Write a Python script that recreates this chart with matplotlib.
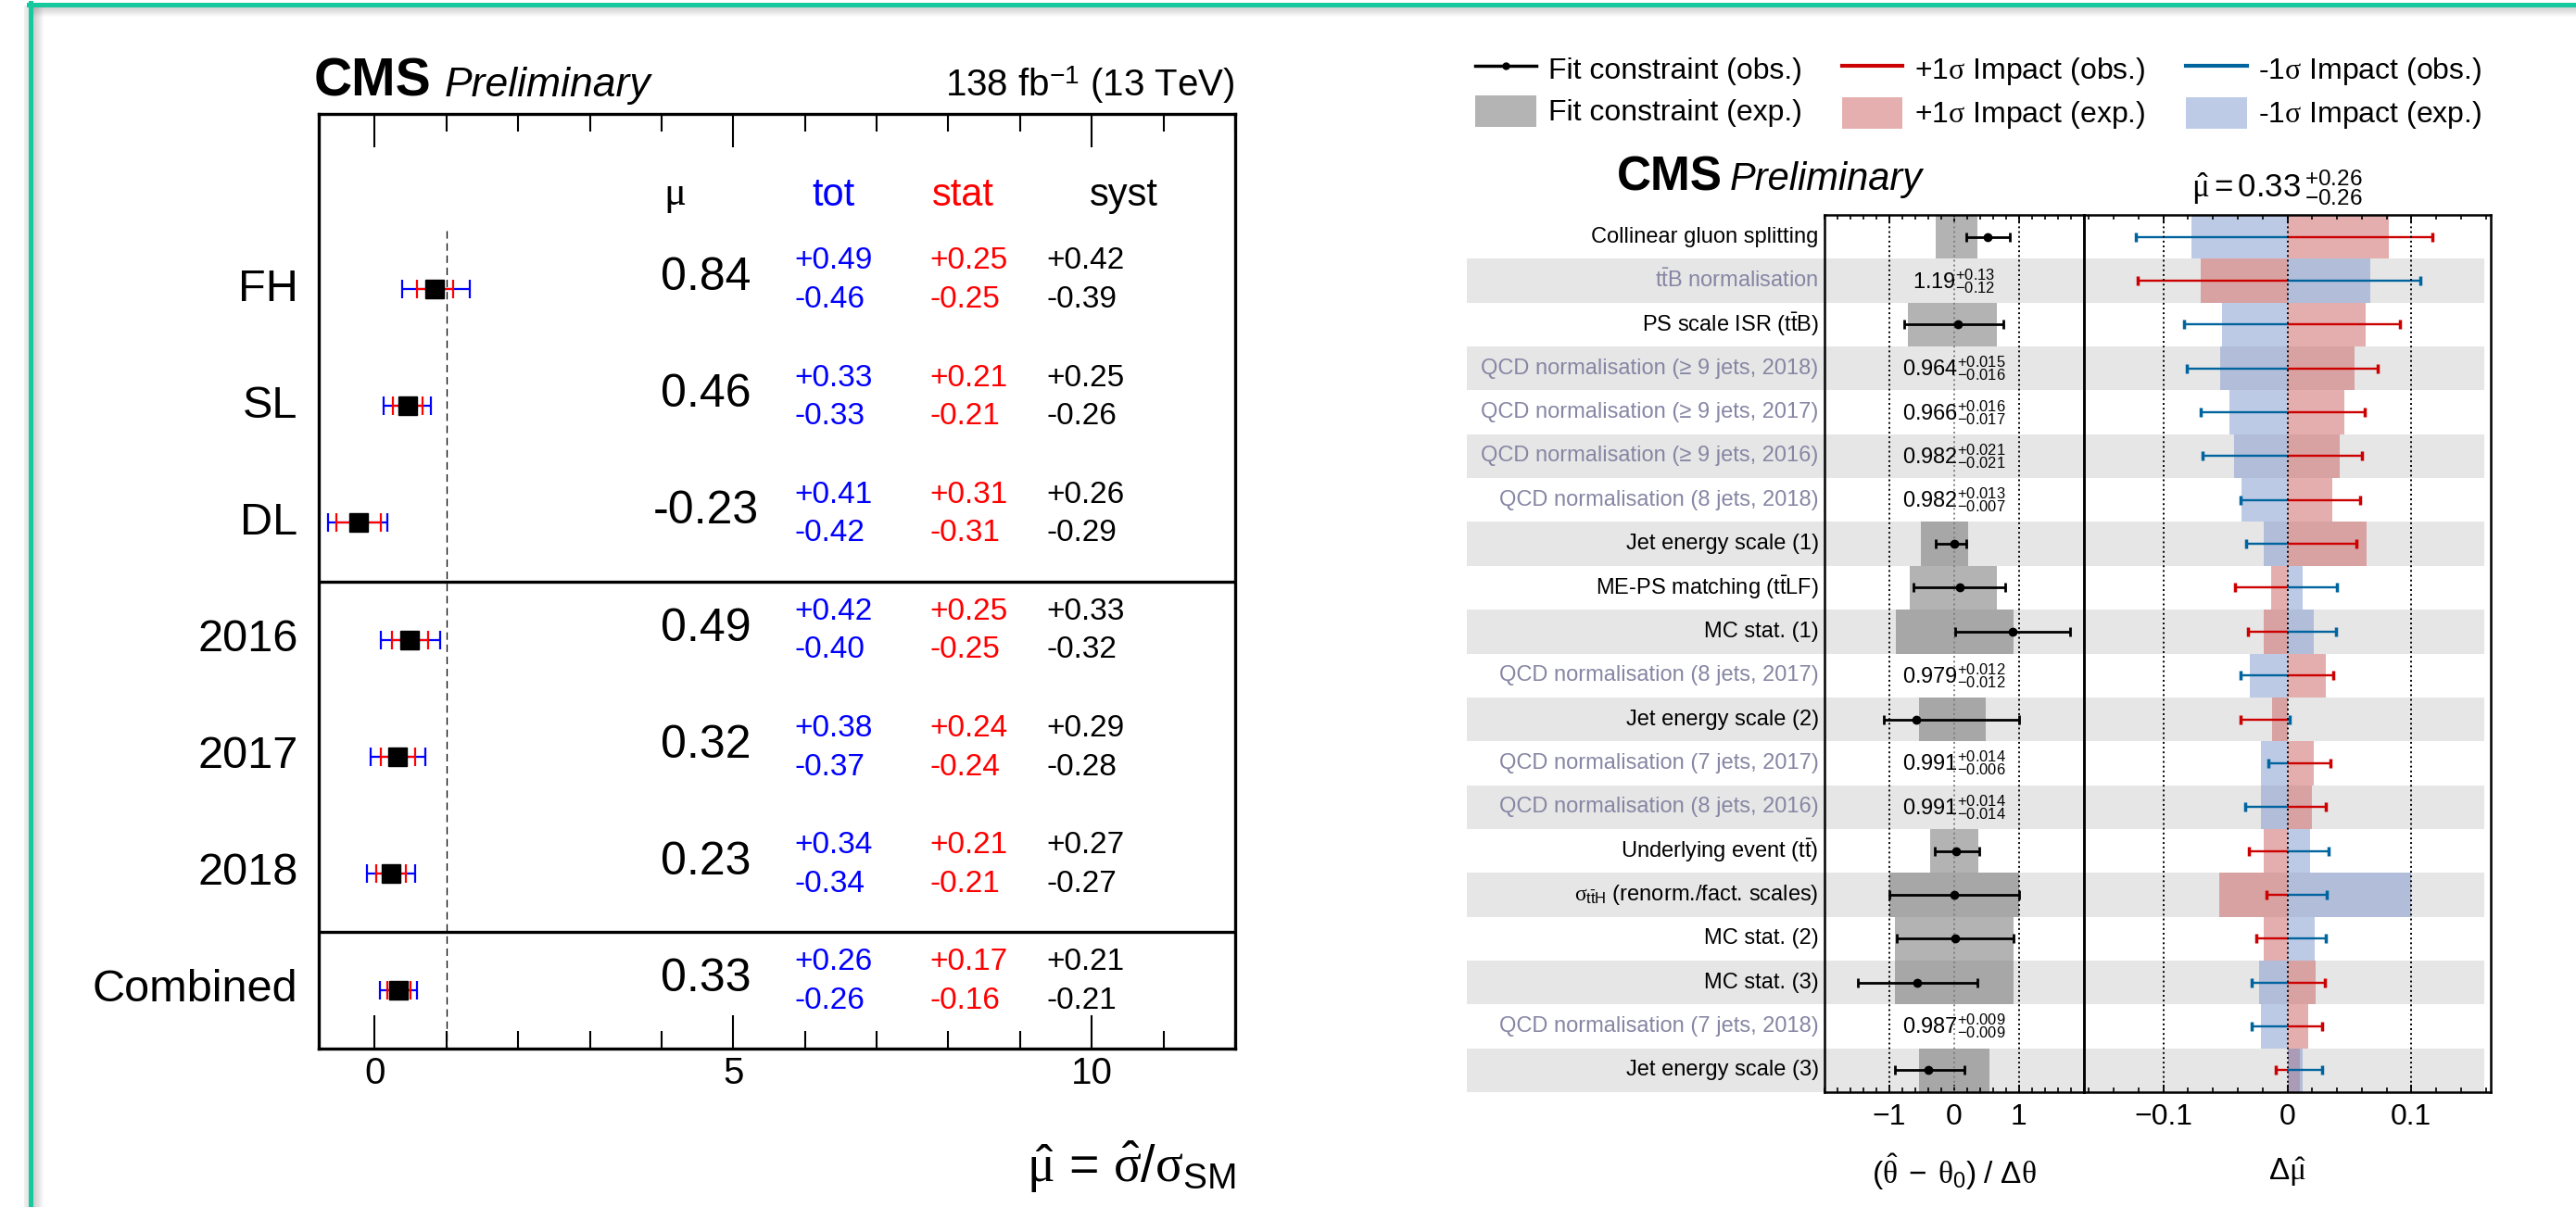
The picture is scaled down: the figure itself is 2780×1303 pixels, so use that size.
import numpy as np
import matplotlib
matplotlib.use('Agg')
import matplotlib.pyplot as plt
from matplotlib.lines import Line2D
from matplotlib.patches import Patch
from matplotlib.ticker import MultipleLocator

plt.rcParams['font.family'] = ['Liberation Sans', 'DejaVu Sans']
plt.rcParams['mathtext.fontset'] = 'custom'
plt.rcParams['mathtext.rm'] = 'Liberation Sans'
plt.rcParams['mathtext.it'] = 'Liberation Serif'
plt.rcParams['mathtext.bf'] = 'Liberation Sans:bold'
plt.rcParams['mathtext.sf'] = 'Liberation Sans'

# left panel: signal strength per channel / year
channels = ['FH', 'SL', 'DL', '2016', '2017', '2018', 'Combined']
mu = [0.84, 0.46, -0.23, 0.49, 0.32, 0.23, 0.33]
tot_up = [0.49, 0.33, 0.41, 0.42, 0.38, 0.34, 0.26]
tot_dn = [0.46, 0.33, 0.42, 0.40, 0.37, 0.34, 0.26]
stat_up = [0.25, 0.21, 0.31, 0.25, 0.24, 0.21, 0.17]
stat_dn = [0.25, 0.21, 0.31, 0.25, 0.24, 0.21, 0.16]
syst_up = [0.42, 0.25, 0.26, 0.33, 0.29, 0.27, 0.21]
syst_dn = [0.39, 0.26, 0.29, 0.32, 0.28, 0.27, 0.21]

# right panel: pulls and impacts
params = ['Collinear gluon splitting', r't$\mathrm{\bar{t}}$B normalisation',
          r'PS scale ISR (t$\mathrm{\bar{t}}$B)',
          'QCD normalisation (\u2265 9 jets, 2018)', 'QCD normalisation (\u2265 9 jets, 2017)',
          'QCD normalisation (\u2265 9 jets, 2016)', 'QCD normalisation (8 jets, 2018)',
          'Jet energy scale (1)', r'ME-PS matching (t$\mathrm{\bar{t}}$LF)', 'MC stat. (1)',
          'QCD normalisation (8 jets, 2017)', 'Jet energy scale (2)',
          'QCD normalisation (7 jets, 2017)', 'QCD normalisation (8 jets, 2016)',
          r'Underlying event (t$\mathrm{\bar{t}}$)',
          r'$\sigma_{\mathrm{t\bar{t}H}}$ (renorm./fact. scales)',
          'MC stat. (2)', 'MC stat. (3)', 'QCD normalisation (7 jets, 2018)',
          'Jet energy scale (3)']
nan = np.nan
pull_obs = np.array([0.51, nan, 0.05, nan, nan, nan, nan, 0.00, 0.09, 0.90,
                     nan, -0.58, nan, nan, 0.03, 0.00, 0.01, -0.57, nan, -0.40])
pull_lo = np.array([0.18, nan, -0.77, nan, nan, nan, nan, -0.28, -0.63, 0.02,
                    nan, -1.09, nan, nan, -0.30, -1.00, -0.89, -1.49, nan, -0.91])
pull_hi = np.array([0.85, nan, 0.76, nan, nan, nan, nan, 0.19, 0.79, 1.78,
                    nan, 1.00, nan, nan, 0.38, 1.00, 0.92, 0.35, nan, 0.15])
pull_exp_lo = np.array([-0.28, nan, -0.71, nan, nan, nan, nan, -0.51, -0.68, -0.90,
                        nan, -0.55, nan, nan, -0.37, -1.00, -0.92, -0.92, nan, -0.55])
pull_exp_hi = np.array([0.35, nan, 0.66, nan, nan, nan, nan, 0.21, 0.66, 0.92,
                        nan, 0.49, nan, nan, 0.37, 1.00, 0.92, 0.92, nan, 0.54])
rate_fit = [nan, 1.19, nan, 0.964, 0.966, 0.982, 0.982, nan, nan, nan,
            0.979, nan, 0.991, 0.991, nan, nan, nan, nan, 0.987, nan]
rate_up = [nan, 0.13, nan, 0.015, 0.016, 0.021, 0.013, nan, nan, nan,
           0.012, nan, 0.014, 0.014, nan, nan, nan, nan, 0.009, nan]
rate_dn = [nan, 0.12, nan, 0.016, 0.017, 0.021, 0.007, nan, nan, nan,
           0.012, nan, 0.006, 0.014, nan, nan, nan, nan, 0.009, nan]
imp_up_obs = [0.117, -0.121, 0.091, 0.073, 0.0625, 0.060, 0.059, 0.056, -0.042, -0.032,
              0.037, -0.038, 0.035, 0.031, -0.031, -0.017, -0.025, 0.030, 0.028, -0.009]
imp_dn_obs = [-0.122, 0.107, -0.083, -0.081, -0.070, -0.068, -0.038, -0.033, 0.040, 0.039,
              -0.038, 0.002, -0.015, -0.034, 0.033, 0.032, 0.031, -0.029, -0.029, 0.028]
imp_up_exp = [0.082, -0.070, 0.063, 0.054, 0.046, 0.042, 0.036, 0.064, -0.013, -0.019,
              0.031, -0.012, 0.021, 0.020, -0.019, -0.055, -0.019, 0.023, 0.017, 0.010]
imp_dn_exp = [-0.077, 0.067, -0.053, -0.054, -0.047, -0.043, -0.037, -0.019, 0.012, 0.021,
              -0.030, 0.0, -0.021, -0.021, 0.018, 0.100, 0.022, -0.023, -0.021, 0.012]

W, H = 2780, 1303
RED, BLUE = '#cc0000', '#00649e'
RATE_COL = '#8686a4'


def fx(px):
    return px / W


def fy(py):
    return 1 - py / H


fig = plt.figure(figsize=(W / 100, H / 100), dpi=100)

# slide frame
teal = '#16c89d'
for k in range(1, 12):
    a = 0.32 * (1 - k / 12)
    fig.add_artist(Line2D([fx(36), 1], [fy(6 + k)] * 2, color='#606060', alpha=a, lw=0.75))
    fig.add_artist(Line2D([fx(35 + k)] * 2, [0, fy(6)], color='#606060', alpha=a, lw=0.75))
    if k < 6:
        fig.add_artist(Line2D([fx(31 - k)] * 2, [0, fy(6)], color='#606060', alpha=a * 0.5, lw=0.75))
fig.add_artist(Line2D([fx(31), 1], [fy(4.5)] * 2, color=teal, lw=3.6))
fig.add_artist(Line2D([fx(33)] * 2, [0, fy(3)], color=teal, lw=3.6))

# ---------------- left panel ----------------
ax = fig.add_axes([fx(344), fy(1132), fx(1333) - fx(344), (1132 - 123) / H])
rows = np.arange(len(channels))
ax.set_xlim(-0.78, 12)
ax.set_ylim(6.5, -1.5)
ax.vlines(1, -0.5, 6.5, colors='k', linestyles=(0, (6.5, 4)), lw=0.9)
ax.axhline(2.5, color='k', lw=2.4)
ax.axhline(5.5, color='k', lw=2.4)
ax.errorbar(mu, rows, xerr=[tot_dn, tot_up], fmt='none', ecolor='#0000ff',
            elinewidth=1.6, capsize=7, capthick=1.6)
ax.errorbar(mu, rows, xerr=[stat_dn, stat_up], fmt='none', ecolor='#ff0000',
            elinewidth=1.6, capsize=7, capthick=1.6)
ax.plot(mu, rows, 's', color='k', ms=15)

ax.text(4.18, -0.8, r'$\mu$', ha='center', va='center', fontsize=32)
ax.text(6.40, -0.8, 'tot', color='#0000ff', ha='center', va='center', fontsize=30)
ax.text(8.21, -0.8, 'stat', color='#ff0000', ha='center', va='center', fontsize=30)
ax.text(10.45, -0.8, 'syst', color='k', ha='center', va='center', fontsize=30)
for i in rows:
    ax.text(-1.07, i, channels[i], ha='right', va='center', fontsize=35, clip_on=False)
    ax.text(4.62, i - 0.095, f'{mu[i]:.2f}', ha='center', va='center', fontsize=36)
    for xx, up, dn, col in [(5.86, tot_up, tot_dn, '#0000ff'), (7.74, stat_up, stat_dn, '#ff0000'),
                            (9.37, syst_up, syst_dn, 'k')]:
        ax.text(xx, i - 0.24, f'+{up[i]:.2f}', color=col, ha='left', va='center', fontsize=24)
        ax.text(xx, i + 0.09, f'-{dn[i]:.2f}', color=col, ha='left', va='center', fontsize=24)

ax.set_xticks([0, 5, 10])
ax.xaxis.set_minor_locator(MultipleLocator(1))
ax.set_yticks([])
ax.tick_params(axis='x', which='both', direction='in', top=True, bottom=True,
               labelsize=29, pad=6, width=1.5)
ax.tick_params(axis='x', which='major', length=26)
ax.tick_params(axis='x', which='minor', length=13.5)
for s in ax.spines.values():
    s.set_linewidth(2.4)

fig.text(fx(339), fy(104), 'CMS', fontsize=41, weight='bold', va='baseline')
fig.text(fx(480), fy(104), 'Preliminary', fontsize=32, style='italic', va='baseline')
fig.text(fx(1333), fy(104), r'138 fb$^{-1}$ (13 TeV)', fontsize=29, ha='right', va='baseline')
fig.text(fx(1333), fy(1276), r'$\hat{\mu}$ = $\hat{\sigma}/\sigma_{\mathrm{SM}}$',
         fontsize=40, ha='right', va='baseline')

# ---------------- right panel ----------------
prow = np.arange(len(params))
y0, y1 = 232, 1179
ax_bg = fig.add_axes([fx(1583), fy(y1), fx(2681) - fx(1583), (y1 - y0) / H])
ax_bg.set_xlim(0, 1)
ax_bg.set_ylim(19.5, -0.5)
ax_bg.barh(prow[1::2], 1, left=0, height=1, color='#e6e6e6')
ax_bg.axis('off')

ax_p = fig.add_axes([fx(1969), fy(y1), fx(2249) - fx(1969), (y1 - y0) / H])
ax_i = fig.add_axes([fx(2249), fy(y1), fx(2688) - fx(2249), (y1 - y0) / H])
for a in (ax_p, ax_i):
    a.set_facecolor('none')
    a.set_ylim(19.5, -0.5)
    a.set_yticks([])
    a.tick_params(axis='x', which='both', direction='in', top=True, bottom=True,
                  labelsize=23, pad=9)
    a.tick_params(axis='x', which='major', length=6, width=1.3)
    a.tick_params(axis='x', which='minor', length=3.5, width=1.2)
    for s in a.spines.values():
        s.set_linewidth(1.8)

ax_p.set_xlim(-2, 2)
ax_p.set_xticks([-1, 0, 1])
ax_p.xaxis.set_minor_locator(MultipleLocator(0.2))
has_pull = ~np.isnan(pull_obs)
ax_p.barh(prow[has_pull], (pull_exp_hi - pull_exp_lo)[has_pull], left=pull_exp_lo[has_pull],
          height=1, color='#696969', alpha=0.5, lw=0)
ax_p.axvline(-1, color='k', ls=':', lw=1.4)
ax_p.axvline(1, color='k', ls=':', lw=1.4)
ax_p.axvline(0, color='#808080', ls=':', lw=1.4)
ax_p.errorbar(pull_obs[has_pull], prow[has_pull],
              xerr=[(pull_obs - pull_lo)[has_pull], (pull_hi - pull_obs)[has_pull]],
              fmt='o', color='k', ms=6, elinewidth=2, capsize=3.5, capthick=2)
for i in prow:
    col = RATE_COL if not np.isnan(rate_fit[i]) else 'k'
    ax_p.text(-2.09, i, params[i], ha='right', va='center', fontsize=17, color=col, clip_on=False)
    if not np.isnan(rate_fit[i]):
        nd = 2 if rate_fit[i] > 1 else 3
        ax_p.text(0, i, rf'${rate_fit[i]:.{nd}f}^{{+{rate_up[i]:.{nd}f}}}_{{-{rate_dn[i]:.{nd}f}}}$',
                  ha='center', va='center', fontsize=17)
ax_p.text(0.5, -0.091, r'$(\hat{\theta}\;-\;\theta_{0})\ /\ \Delta\theta$', transform=ax_p.transAxes,
          ha='center', va='center', fontsize=24)

ax_i.set_xlim(-0.164, 0.164)
ax_i.set_xticks([-0.1, 0, 0.1])
ax_i.set_xticklabels(['\u22120.1', '0', '0.1'])
ax_i.xaxis.set_minor_locator(MultipleLocator(0.02))
ax_i.barh(prow, imp_up_exp, left=0, height=1, color='#cd5f5f', alpha=0.5, lw=0)
ax_i.barh(prow, imp_dn_exp, left=0, height=1, color='#7d96cd', alpha=0.5, lw=0)
ax_i.hlines(prow, 0, imp_up_obs, color=RED, lw=1.7)
ax_i.plot(imp_up_obs, prow, '|', color=RED, ms=7, mew=2.5)
ax_i.hlines(prow, 0, imp_dn_obs, color=BLUE, lw=1.7)
ax_i.plot(imp_dn_obs, prow, '|', color=BLUE, ms=7, mew=2.5)
for xv in (-0.1, 0, 0.1):
    ax_i.axvline(xv, color='k', ls=':', lw=1.4, zorder=5)
ax_i.text(0.5, -0.091, r'$\Delta\hat{\mu}$', transform=ax_i.transAxes,
          ha='center', va='center', fontsize=24)

fig.text(fx(1745), fy(205), 'CMS', fontsize=37, weight='bold', va='baseline')
fig.text(fx(1867), fy(205), 'Preliminary', fontsize=30, style='italic', va='baseline')
fig.text(fx(2365), fy(213),
         rf'$\hat{{\mu}} = {mu[-1]:.2f}\,{{}}^{{+{tot_up[-1]:.2f}}}_{{-{tot_dn[-1]:.2f}}}$',
         fontsize=25, va='baseline')

handles = [Line2D([], [], color='k', lw=2.5, marker='o', ms=5),
           Patch(fc='#b4b4b4', ec='none'),
           Line2D([], [], color=RED, lw=3),
           Patch(fc='#e6afaf', ec='none'),
           Line2D([], [], color=BLUE, lw=3),
           Patch(fc='#becbe6', ec='none')]
labels = ['Fit constraint (obs.)', 'Fit constraint (exp.)',
          r'+1$\sigma$ Impact (obs.)', r'+1$\sigma$ Impact (exp.)',
          r'-1$\sigma$ Impact (obs.)', r'-1$\sigma$ Impact (exp.)']
fig.legend(handles, labels, ncol=3, loc='upper left', bbox_to_anchor=(fx(1592), fy(57)),
           frameon=False, fontsize=23, handlelength=2.06, handleheight=1.25,
           handletextpad=0.4, columnspacing=1.35, labelspacing=0.35,
           borderpad=0, borderaxespad=0)

fig.savefig('out.png', dpi=100)
